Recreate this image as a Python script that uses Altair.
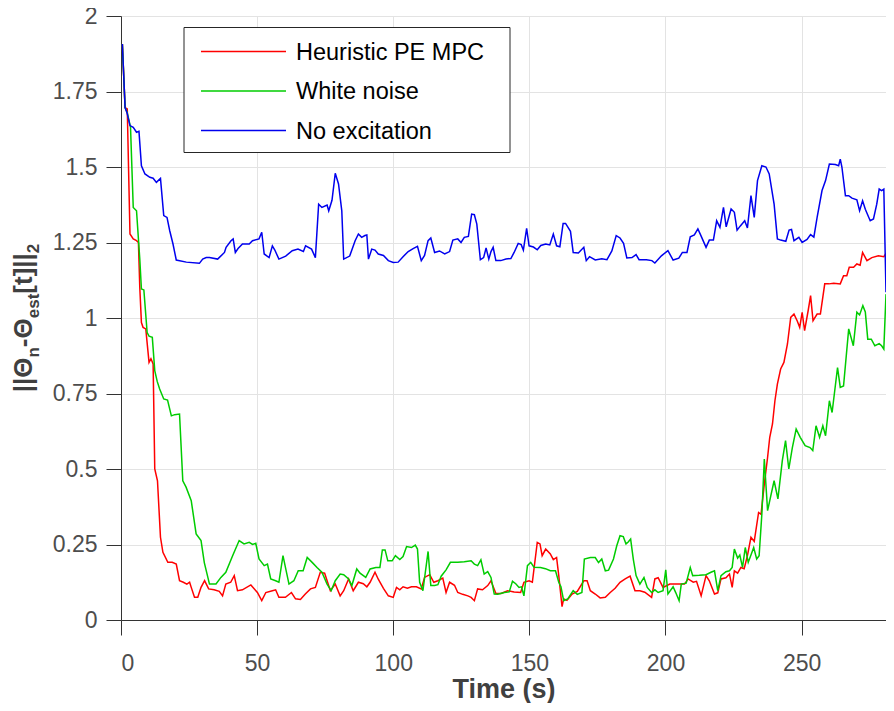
import altair as alt
import pandas as pd

series_names = ["Heuristic PE MPC", "White noise", "No excitation"]
series_colors = ["#ff0000", "#00cc00", "#0000ee"]

heuristic_pe_mpc = [
    (0.5, 1.907), (1.5, 1.697), (2.3, 1.692), (3.3, 1.278), (4.5, 1.262), (5.7, 1.256), (6.4, 1.25),
    (6.9, 1.101), (7.5, 0.985), (8.1, 0.969), (9.1, 0.964), (10.3, 0.853), (11.0, 0.865), (11.8, 0.848),
    (12.4, 0.5), (13.4, 0.461), (14.5, 0.274), (15.4, 0.224), (17.2, 0.191), (18.8, 0.191), (20.3, 0.185),
    (21.5, 0.13), (22.9, 0.125), (24.2, 0.119), (25.2, 0.125), (25.8, 0.108), (27.0, 0.075), (28.2, 0.075),
    (29.4, 0.108), (30.7, 0.13), (32.2, 0.103), (34.2, 0.1), (36.1, 0.095), (37.3, 0.08), (38.5, 0.119),
    (40.3, 0.125), (41.6, 0.147), (42.8, 0.097), (44.6, 0.1), (47.7, 0.116), (50.1, 0.091), (51.7, 0.064),
    (53.2, 0.091), (55.6, 0.097), (56.8, 0.1), (58.0, 0.075), (60.4, 0.075), (62.6, 0.091), (64.1, 0.07),
    (65.9, 0.068), (67.7, 0.086), (69.6, 0.103), (71.4, 0.108), (73.2, 0.158), (74.8, 0.155), (76.9, 0.097),
    (78.7, 0.119), (80.5, 0.08), (81.8, 0.097), (83.6, 0.136), (85.3, 0.097), (87.2, 0.125), (89.0, 0.12),
    (90.3, 0.11), (91.5, 0.125), (93.3, 0.158), (94.5, 0.135), (96.4, 0.105), (98.2, 0.08), (100.0, 0.075),
    (101.2, 0.108), (102.4, 0.1), (103.6, 0.11), (105.2, 0.105), (106.7, 0.11), (108.5, 0.11), (110.3, 0.103),
    (111.5, 0.141), (113.4, 0.15), (114.9, 0.125), (116.4, 0.13), (118.2, 0.139), (119.4, 0.091), (120.7, 0.125),
    (122.5, 0.115), (123.7, 0.091), (125.5, 0.085), (127.4, 0.08), (128.6, 0.075), (129.8, 0.064), (131.0, 0.103),
    (132.8, 0.1), (134.7, 0.114), (135.9, 0.13), (137.7, 0.088), (139.6, 0.088), (142.0, 0.097), (144.4, 0.093),
    (146.8, 0.091), (148.0, 0.125), (149.9, 0.13), (151.1, 0.125), (152.9, 0.257), (153.9, 0.252), (154.7, 0.213),
    (156.0, 0.235), (157.7, 0.219), (158.8, 0.2), (160.0, 0.207), (160.8, 0.147), (162.0, 0.044), (162.6, 0.07),
    (163.8, 0.065), (165.7, 0.086), (167.6, 0.095), (170.0, 0.13), (171.2, 0.13), (172.4, 0.097), (174.2, 0.086),
    (176.0, 0.073), (177.9, 0.075), (179.7, 0.091), (181.5, 0.105), (183.3, 0.125), (185.2, 0.136), (187.0, 0.145),
    (188.8, 0.097), (190.6, 0.097), (192.4, 0.092), (194.9, 0.075), (196.1, 0.136), (197.3, 0.14), (199.1, 0.108),
    (201.6, 0.119), (204.0, 0.119), (207.0, 0.119), (208.3, 0.136), (210.2, 0.125), (211.4, 0.128), (213.1, 0.08),
    (214.9, 0.147), (216.1, 0.13), (218.0, 0.086), (219.2, 0.09), (220.4, 0.136), (222.2, 0.14), (223.5, 0.152),
    (224.5, 0.108), (225.3, 0.163), (226.5, 0.155), (227.7, 0.174), (228.9, 0.17), (230.1, 0.213), (231.4, 0.274),
    (232.6, 0.26), (234.2, 0.356), (235.1, 0.35), (236.3, 0.45), (237.5, 0.538), (238.3, 0.605), (239.3, 0.649),
    (240.2, 0.726), (241.1, 0.781), (242.3, 0.831), (243.5, 0.853), (244.8, 0.914), (246.0, 1.002), (247.2, 1.013),
    (248.4, 0.99), (249.3, 0.969), (250.2, 1.019), (251.1, 0.958), (252.4, 1.024), (253.3, 1.074), (254.2, 0.991),
    (255.7, 1.013), (256.9, 1.013), (258.5, 1.113), (260.0, 1.113), (261.8, 1.115), (264.2, 1.113), (265.4, 1.14),
    (266.6, 1.14), (267.5, 1.168), (269.1, 1.168), (270.3, 1.179), (271.5, 1.175), (272.4, 1.217), (274.0, 1.19),
    (275.8, 1.2), (278.2, 1.206), (280.2, 1.203), (281.0, 1.214),
]

white_noise = [
    (0.5, 1.907), (1.5, 1.697), (2.3, 1.68), (3.5, 1.631), (4.5, 1.366), (5.7, 1.355), (6.9, 1.195),
    (7.5, 1.096), (8.4, 1.093), (9.6, 0.952), (10.3, 0.94), (11.5, 0.936), (12.4, 0.826), (13.3, 0.79),
    (14.2, 0.765), (15.7, 0.732), (17.1, 0.728), (18.5, 0.676), (19.7, 0.68), (21.5, 0.682), (22.7, 0.461),
    (23.9, 0.44), (25.8, 0.395), (27.6, 0.285), (29.4, 0.263), (30.6, 0.19), (32.5, 0.119), (34.9, 0.119),
    (36.7, 0.141), (38.5, 0.158), (41.0, 0.213), (43.4, 0.263), (45.2, 0.252), (47.1, 0.257), (48.3, 0.25),
    (49.5, 0.254), (50.7, 0.202), (52.6, 0.18), (53.8, 0.185), (55.0, 0.136), (56.8, 0.13), (58.0, 0.125),
    (59.5, 0.213), (60.5, 0.17), (61.7, 0.119), (63.5, 0.13), (65.1, 0.163), (66.9, 0.163), (68.4, 0.207),
    (70.3, 0.19), (72.0, 0.174), (73.8, 0.158), (75.7, 0.119), (77.2, 0.097), (78.7, 0.13), (80.5, 0.152),
    (81.8, 0.15), (83.6, 0.136), (84.8, 0.114), (86.6, 0.169), (87.8, 0.155), (89.9, 0.141), (91.5, 0.169),
    (93.6, 0.174), (95.1, 0.174), (96.0, 0.232), (97.0, 0.232), (98.0, 0.196), (99.6, 0.196), (100.8, 0.213),
    (102.4, 0.2), (103.6, 0.21), (104.9, 0.243), (106.7, 0.24), (108.1, 0.248), (108.9, 0.235), (109.7, 0.125),
    (110.9, 0.097), (112.8, 0.227), (113.8, 0.114), (115.2, 0.114), (116.4, 0.117), (117.6, 0.145), (119.4, 0.166),
    (121.0, 0.191), (123.7, 0.191), (126.1, 0.193), (128.6, 0.196), (129.8, 0.185), (131.0, 0.18), (132.2, 0.199),
    (133.4, 0.152), (134.7, 0.16), (135.9, 0.141), (137.1, 0.086), (138.4, 0.085), (140.8, 0.091), (142.6, 0.093),
    (143.8, 0.128), (145.0, 0.12), (146.2, 0.108), (147.1, 0.11), (148.0, 0.08), (149.3, 0.18), (150.5, 0.191),
    (151.7, 0.175), (154.1, 0.174), (155.9, 0.17), (157.7, 0.163), (159.6, 0.163), (160.8, 0.125), (161.6, 0.11),
    (162.6, 0.064), (164.1, 0.07), (166.1, 0.097), (167.6, 0.085), (169.3, 0.091), (170.2, 0.202), (172.4, 0.207),
    (174.2, 0.207), (175.4, 0.19), (176.6, 0.202), (177.9, 0.163), (179.1, 0.165), (180.9, 0.202), (182.1, 0.246),
    (183.3, 0.279), (184.5, 0.276), (185.5, 0.252), (186.3, 0.258), (187.2, 0.268), (188.2, 0.2), (189.2, 0.147),
    (190.6, 0.119), (192.1, 0.141), (193.3, 0.108), (194.9, 0.091), (196.1, 0.1), (197.3, 0.091), (199.1, 0.097),
    (200.1, 0.166), (200.9, 0.086), (202.8, 0.11), (203.8, 0.09), (205.0, 0.064), (205.8, 0.119), (207.6, 0.122),
    (209.1, 0.174), (210.0, 0.147), (212.4, 0.148), (214.9, 0.15), (216.7, 0.158), (218.0, 0.163), (219.2, 0.097),
    (220.4, 0.147), (222.2, 0.16), (223.5, 0.163), (224.5, 0.174), (225.3, 0.235), (226.5, 0.205), (227.3, 0.215),
    (228.3, 0.174), (229.3, 0.24), (230.4, 0.191), (231.4, 0.215), (232.4, 0.24), (233.5, 0.202), (234.4, 0.213),
    (235.4, 0.351), (236.3, 0.533), (237.5, 0.362), (238.7, 0.412), (239.9, 0.461), (241.3, 0.401), (242.9, 0.527),
    (244.1, 0.594), (245.3, 0.5), (246.6, 0.571), (248.0, 0.632), (249.5, 0.605), (251.3, 0.577), (253.1, 0.571),
    (254.1, 0.561), (255.3, 0.643), (256.6, 0.605), (257.8, 0.643), (258.8, 0.61), (260.2, 0.726), (261.2, 0.687),
    (263.2, 0.836), (264.2, 0.77), (265.4, 0.775), (267.3, 0.964), (269.0, 0.908), (270.3, 1.019), (271.3, 1.01),
    (272.5, 1.041), (273.4, 1.02), (274.3, 0.93), (275.6, 0.93), (276.9, 0.908), (278.5, 0.915), (279.4, 0.908),
    (280.2, 0.897), (281.0, 1.079),
]

no_excitation = [
    (0.5, 1.907), (1.5, 1.697), (2.2, 1.68), (3.3, 1.637), (4.5, 1.631), (5.7, 1.615), (6.6, 1.618),
    (7.5, 1.504), (8.8, 1.477), (10.6, 1.466), (11.8, 1.463), (13.0, 1.449), (14.5, 1.462), (15.7, 1.339),
    (16.9, 1.333), (17.9, 1.289), (19.1, 1.245), (20.3, 1.192), (24.0, 1.185), (28.8, 1.181), (30.0, 1.195),
    (31.3, 1.2), (32.5, 1.2), (35.5, 1.195), (38.0, 1.217), (38.6, 1.234), (40.4, 1.256), (41.2, 1.262),
    (42.0, 1.217), (43.0, 1.23), (44.6, 1.245), (47.1, 1.245), (48.3, 1.256), (50.7, 1.262), (51.7, 1.284),
    (52.6, 1.212), (54.4, 1.2), (55.6, 1.239), (56.5, 1.225), (58.0, 1.195), (60.5, 1.205), (62.9, 1.223),
    (65.0, 1.228), (67.0, 1.22), (67.8, 1.239), (70.0, 1.228), (71.4, 1.2), (72.6, 1.377), (73.8, 1.366),
    (75.7, 1.374), (76.3, 1.355), (77.5, 1.39), (78.7, 1.479), (79.9, 1.444), (81.1, 1.355), (81.8, 1.195),
    (84.0, 1.205), (86.0, 1.256), (87.2, 1.278), (88.4, 1.267), (89.6, 1.273), (90.3, 1.275), (90.9, 1.195),
    (92.1, 1.228), (93.3, 1.225), (94.5, 1.212), (96.4, 1.207), (98.2, 1.19), (100.0, 1.184), (101.8, 1.185),
    (103.6, 1.203), (105.5, 1.22), (107.3, 1.23), (108.9, 1.237), (110.3, 1.19), (111.5, 1.207), (112.8, 1.256),
    (113.8, 1.265), (115.2, 1.217), (117.0, 1.222), (118.9, 1.212), (120.7, 1.22), (121.9, 1.258), (123.7, 1.262),
    (124.9, 1.25), (126.1, 1.267), (127.6, 1.27), (128.8, 1.344), (129.8, 1.342), (130.7, 1.311), (132.0, 1.193),
    (133.2, 1.2), (134.1, 1.232), (135.1, 1.195), (135.9, 1.22), (136.7, 1.234), (137.7, 1.19), (139.5, 1.19),
    (141.4, 1.195), (143.2, 1.197), (144.4, 1.217), (145.9, 1.247), (147.0, 1.243), (147.8, 1.225), (149.0, 1.297),
    (149.9, 1.239), (151.5, 1.235), (152.9, 1.226), (154.2, 1.24), (156.0, 1.245), (157.5, 1.242), (158.8, 1.278),
    (160.0, 1.239), (161.2, 1.236), (162.4, 1.313), (163.3, 1.313), (165.1, 1.287), (166.1, 1.217), (168.0, 1.215),
    (170.0, 1.234), (170.9, 1.19), (172.1, 1.203), (174.2, 1.192), (176.6, 1.196), (178.5, 1.193), (180.3, 1.222),
    (181.9, 1.273), (183.3, 1.265), (184.6, 1.247), (185.8, 1.199), (187.7, 1.2), (189.2, 1.21), (190.3, 1.193),
    (193.0, 1.193), (195.0, 1.19), (196.1, 1.182), (198.5, 1.206), (200.9, 1.223), (202.8, 1.192), (204.9, 1.198),
    (206.2, 1.217), (207.9, 1.217), (209.1, 1.269), (210.6, 1.275), (211.9, 1.295), (213.1, 1.271), (214.9, 1.234),
    (216.1, 1.258), (217.6, 1.258), (218.8, 1.322), (220.0, 1.3), (221.3, 1.366), (222.3, 1.302), (224.1, 1.361),
    (225.3, 1.35), (226.3, 1.291), (227.5, 1.305), (229.1, 1.322), (230.1, 1.298), (231.4, 1.405), (232.6, 1.333),
    (233.8, 1.455), (235.4, 1.504), (236.9, 1.5), (238.1, 1.477), (239.9, 1.377), (241.1, 1.262), (242.3, 1.258),
    (244.2, 1.254), (245.4, 1.291), (246.3, 1.293), (247.2, 1.256), (249.0, 1.267), (250.2, 1.25), (252.0, 1.26),
    (253.3, 1.276), (254.5, 1.268), (255.7, 1.333), (257.5, 1.422), (258.8, 1.455), (260.2, 1.51), (262.4, 1.508),
    (263.6, 1.504), (264.2, 1.526), (264.8, 1.5), (266.1, 1.405), (267.3, 1.405), (268.5, 1.397), (270.3, 1.391),
    (271.3, 1.355), (272.4, 1.388), (273.4, 1.36), (275.2, 1.322), (276.4, 1.328), (277.6, 1.377), (278.5, 1.427),
    (279.4, 1.422), (280.2, 1.427), (281.0, 1.085),
]

x_ticks = [0, 50, 100, 150, 200, 250]
y_ticks = [0, 0.25, 0.5, 0.75, 1, 1.25, 1.5, 1.75, 2]

# y-axis title pieces: (text, is_subscript)
y_title_parts = [("||Θ", False), ("n", True), ("-Θ", False), ("est", True), ("[t]||", False), ("2", True)]

rows = []
for name, pts in zip(series_names, [heuristic_pe_mpc, white_noise, no_excitation]):
    for i, (t, v) in enumerate(pts):
        rows.append({"series": name, "t": t, "v": v, "i": i})
df = pd.DataFrame(rows)

FONT = "Liberation Sans, Arial, Helvetica, DejaVu Sans"
W, H = 765, 604

lines = (
    alt.Chart(df)
    .mark_line(strokeWidth=1.5, clip=True)
    .encode(
        x=alt.X(
            "t:Q",
            scale=alt.Scale(domain=[0, 281], nice=False, zero=False),
            axis=alt.Axis(
                values=x_ticks, format="d", title="Time (s)",
                labelPadding=17, titleY=77, titleBaseline="alphabetic",
                titleFontSize=27, titleFontWeight="bold", titleColor="#404040",
            ),
        ),
        y=alt.Y(
            "v:Q",
            scale=alt.Scale(domain=[0, 2], nice=False),
            axis=alt.Axis(values=y_ticks, format=".2~f", title=None, labelPadding=9),
        ),
        color=alt.Color(
            "series:N",
            sort=series_names,
            scale=alt.Scale(domain=series_names, range=series_colors),
            legend=None,
        ),
        order="i:Q",
    )
)

one = pd.DataFrame({"k": [0]})

# Legend box (layout, pixel positions inside the plot area)
leg_box = alt.Chart(one).mark_rect(fill="#ffffff", stroke="#262626", strokeWidth=1).encode(
    x=alt.value(63), x2=alt.value(389), y=alt.value(11.5), y2=alt.value(136.5)
)
leg_layers = [leg_box]
row_y = [35.5, 75.0, 114.5]
for name, col, ry in zip(series_names, series_colors, row_y):
    leg_layers.append(
        alt.Chart(one).mark_rule(color=col, strokeWidth=1.5).encode(
            x=alt.value(80), x2=alt.value(165), y=alt.value(ry)
        )
    )
    leg_layers.append(
        alt.Chart(one).mark_text(
            text=name, align="left", baseline="middle", font=FONT, fontSize=23.5, color="#000000"
        ).encode(x=alt.value(175), y=alt.value(ry + 1))
    )

# Y-axis title with subscripts, drawn rotated
MAIN_FS, SUB_FS = 26, 17
adv = {"|": 0.28, "Θ": 0.778, "n": 0.611, "-": 0.333, "e": 0.556, "s": 0.556,
       "t": 0.333, "[": 0.333, "]": 0.333, "2": 0.556}
widths = [sum(adv[c] for c in txt) * (SUB_FS if sub else MAIN_FS) for txt, sub in y_title_parts]
total = sum(widths)
pos = H / 2 + total / 2
title_layers = []
for (txt, sub), w in zip(y_title_parts, widths):
    title_layers.append(
        alt.Chart(one).mark_text(
            text=txt, angle=270, align="left", baseline="alphabetic", font=FONT,
            fontSize=SUB_FS if sub else MAIN_FS, fontWeight="bold", color="#404040",
        ).encode(x=alt.value(-82 if sub else -89), y=alt.value(pos))
    )
    pos -= w

chart = (
    alt.layer(lines, *leg_layers, *title_layers)
    .properties(
        width=W, height=H,
        autosize=alt.AutoSizeParams(type="none"),
        padding={"left": 113, "top": 8, "right": 0, "bottom": 83},
    )
    .configure_view(stroke=None)
    .configure_axis(
        labelFont=FONT, titleFont=FONT, labelFontSize=23, labelColor="#4d4d4d",
        domainColor="#333333", tickColor="#333333", tickSize=15, domainWidth=1, tickWidth=1,
        gridColor="#e3e3e3", gridWidth=1,
    )
)

chart.save("out.html", embed_options={"renderer": "svg", "actions": False})
